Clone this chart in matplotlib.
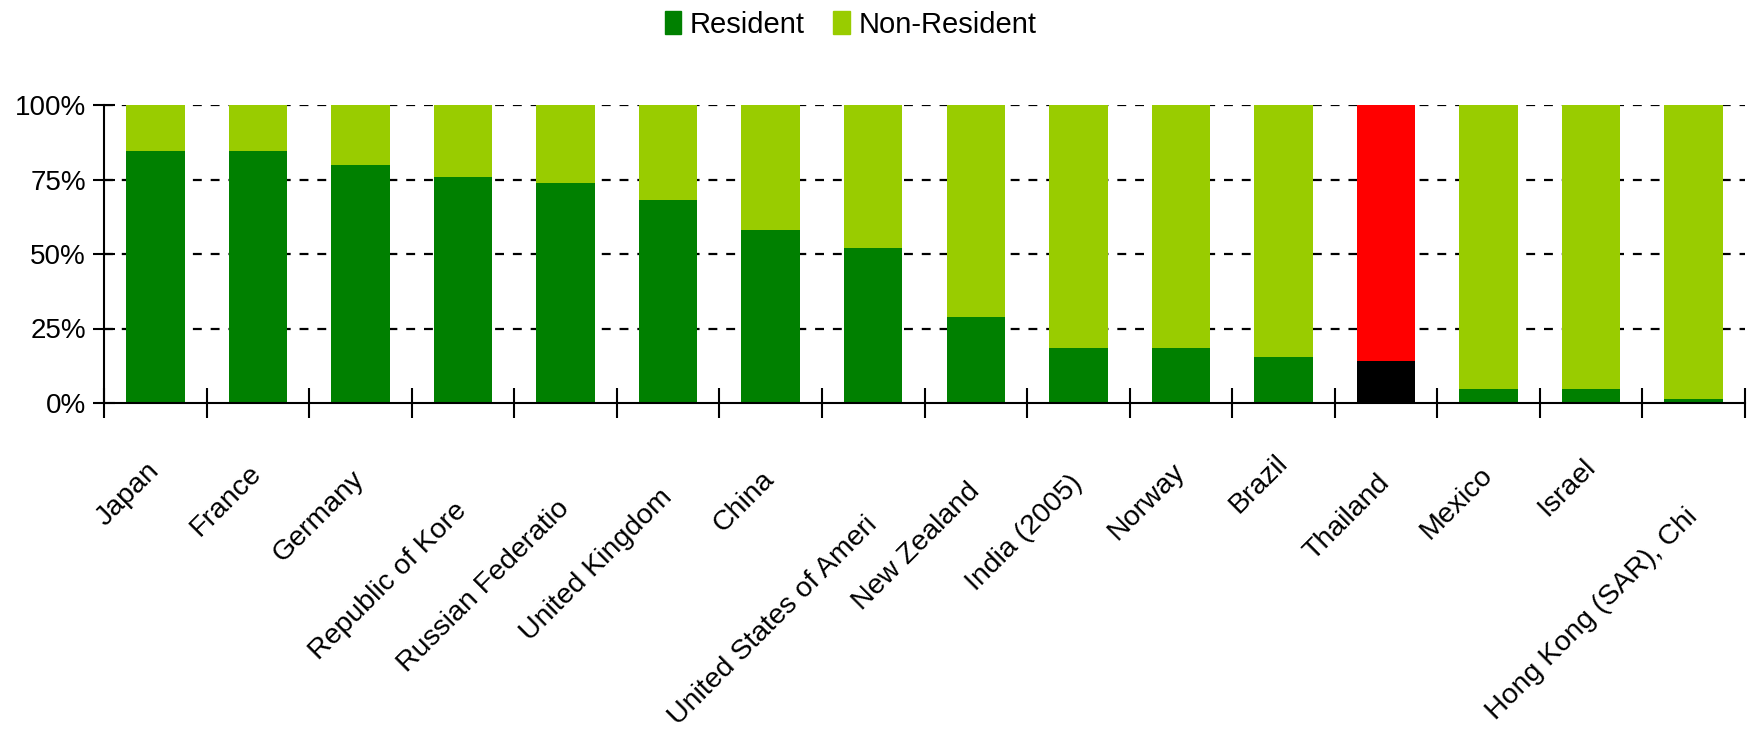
import numpy as np
import matplotlib.pyplot as plt
from matplotlib.patches import Patch

countries = ["Japan", "France", "Germany", "Republic of Kore", "Russian Federatio",
             "United Kingdom", "China", "United States of Ameri", "New Zealand",
             "India (2005)", "Norway", "Brazil", "Thailand", "Mexico", "Israel",
             "Hong Kong (SAR), Chi"]
resident = [0.845, 0.845, 0.80, 0.76, 0.737, 0.682, 0.582, 0.52, 0.29,
            0.185, 0.185, 0.156, 0.141, 0.047, 0.047, 0.015]
non_resident = [1 - r for r in resident]
highlight = "Thailand"

DARK = "#008000"
LIGHT = "#99CC00"

# how far below the axis each rotated label ends (pixels), as in the original
label_drop = [64, 66, 72, 104, 102, 90, 72, 118, 84, 76, 64, 56, 76, 68, 60, 110]


def main():
    plt.rcParams["font.family"] = ["Liberation Sans", "DejaVu Sans"]
    fig = plt.figure(figsize=(17.57, 7.44), dpi=100)
    ax = fig.add_axes([104 / 1757, 341 / 744, (1745 - 104) / 1757, 298 / 744])

    x = np.arange(len(countries))
    res_col = ["black" if c == highlight else DARK for c in countries]
    non_col = ["#FF0000" if c == highlight else LIGHT for c in countries]

    ax.bar(x, resident, width=0.57, color=res_col, zorder=3)
    ax.bar(x, non_resident, width=0.57, bottom=resident, color=non_col, zorder=3)

    # dashed grid at 25/50/75/100
    for yv in [0.25, 0.5, 0.75, 1.0]:
        ax.axhline(yv, color="black", lw=1.6, ls=(0, (4, 4)), zorder=1)

    ax.set_xlim(-0.5, len(countries) - 0.5)
    ax.set_ylim(0, 1)
    ax.set_yticks([0, 0.25, 0.5, 0.75, 1.0])
    ax.set_yticklabels(["0%", "25%", "50%", "75%", "100%"], fontsize=20)
    ax.tick_params(axis="y", direction="inout", length=16, width=1.5, pad=5)

    # tick marks between categories, labels drawn separately
    ax.set_xticks(np.arange(len(countries) + 1) - 0.5)
    ax.set_xticklabels([])
    ax.tick_params(axis="x", direction="inout", length=22, width=1.5)

    for s in ["top", "right"]:
        ax.spines[s].set_visible(False)
    ax.spines["left"].set_linewidth(1.5)
    ax.spines["bottom"].set_linewidth(1.5)
    ax.spines["bottom"].set_zorder(4)

    for i, name in enumerate(countries):
        ax.annotate(name, xy=(i, 0), xycoords=("data", "axes fraction"),
                    xytext=(0, -label_drop[i]), textcoords="offset pixels",
                    rotation=45, rotation_mode="anchor",
                    ha="right", va="center", fontsize=20.5)

    handles = [Patch(color=DARK, label="Resident"),
               Patch(color=LIGHT, label="Non-Resident")]
    fig.legend(handles=handles, loc="center", bbox_to_anchor=(0.484, 0.967),
               ncol=2, frameon=False, fontsize=21, handlelength=0.55,
               handleheight=0.8, handletextpad=0.3, columnspacing=1.0)

    fig.savefig("out.png", dpi=100)


if __name__ == "__main__":
    main()
